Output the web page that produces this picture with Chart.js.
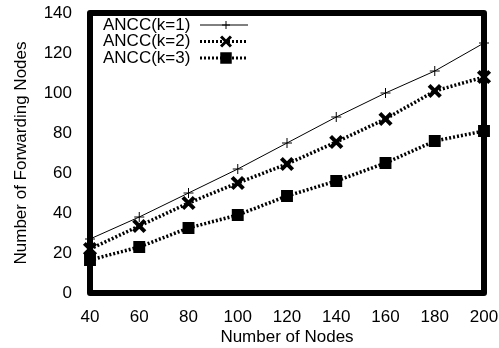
<!DOCTYPE html>
<html>
<head>
<meta charset="utf-8">
<script src="https://cdn.jsdelivr.net/npm/chart.js@4.4.1/dist/chart.umd.min.js"></script>
<style>
  html, body { margin: 0; padding: 0; background: #fff; }
  #wrap { width: 499px; height: 348px; }
</style>
</head>
<body>
<div id="wrap"><canvas id="chart"></canvas></div>
<script>
const nodes = [40, 60, 80, 100, 120, 140, 160, 180, 200];
const ancc1 = [27, 38, 50, 62, 75, 88, 100, 111, 125];
const ancc2 = [22, 33.5, 45, 55, 64.5, 75.5, 87, 101, 108];
const ancc3 = [16.5, 23, 32.5, 39, 48.5, 56, 65, 76, 81];
const seriesNames = ['ANCC(k=1)', 'ANCC(k=2)', 'ANCC(k=3)'];

const FONT = "'Liberation Sans', Arial, sans-serif";
const FSIZE = 17;

function toPoints(ys) {
    return nodes.map((x, i) => ({ x: x, y: ys[i] }));
}

// legend inside the top-left corner of the plot
const legendPlugin = {
    id: 'boxLegend',
    afterDatasetsDraw(chart) {
        const ctx = chart.ctx;
        const a = chart.chartArea;
        ctx.save();
        ctx.font = FSIZE + 'px ' + FONT;
        ctx.textBaseline = 'middle';
        ctx.textAlign = 'left';
        ctx.strokeStyle = '#000';
        chart.data.datasets.forEach((ds, i) => {
            const y = a.top + 12 + i * 16.5;
            ctx.fillStyle = '#000';
            ctx.fillText(ds.label, a.left + 13, y);
            ctx.beginPath();
            ctx.lineWidth = ds.borderWidth === 1 ? 1 : 3;
            ctx.setLineDash(ds.borderDash || []);
            ctx.moveTo(a.left + 110, y);
            ctx.lineTo(a.left + 158, y);
            ctx.stroke();
            ctx.setLineDash([]);
            Chart.helpers.drawPoint(ctx, {
                pointStyle: ds.pointStyle,
                radius: ds.pointRadius - 1,
                borderWidth: ds.pointBorderWidth,
                rotation: 0
            }, a.left + 136, y);
        });
        ctx.restore();
    }
};

// thick box around the plot area
const framePlugin = {
    id: 'frame',
    afterDraw(chart) {
        const ctx = chart.ctx;
        const a = chart.chartArea;
        ctx.save();
        ctx.setLineDash([]);
        ctx.globalAlpha = 1;
        ctx.strokeStyle = '#000';
        ctx.lineWidth = 6;
        ctx.lineJoin = 'round';
        ctx.beginPath();
        ctx.rect(a.left, a.top, a.right - a.left, a.bottom - a.top);
        ctx.stroke();
        ctx.restore();
    }
};

new Chart(document.getElementById('chart'), {
    type: 'line',
    data: {
        datasets: [
            {
                label: seriesNames[0],
                data: toPoints(ancc1),
                borderColor: '#000',
                backgroundColor: '#000',
                borderWidth: 1,
                pointStyle: 'cross',
                pointRadius: 5,
                pointBorderWidth: 1,
                clip: false
            },
            {
                label: seriesNames[1],
                data: toPoints(ancc2),
                borderColor: '#000',
                backgroundColor: '#000',
                borderWidth: 3.5,
                borderDash: [2, 2],
                pointStyle: 'crossRot',
                pointRadius: 8,
                pointBorderWidth: 4,
                clip: false
            },
            {
                label: seriesNames[2],
                data: toPoints(ancc3),
                borderColor: '#000',
                backgroundColor: '#000',
                borderWidth: 3.5,
                borderDash: [2, 2],
                pointStyle: 'rect',
                pointRadius: 7,
                pointBorderWidth: 2,
                clip: false
            }
        ]
    },
    options: {
        responsive: true,
        maintainAspectRatio: false,
        animation: false,
        layout: { padding: { top: 13, right: 15 } },
        plugins: {
            legend: { display: false },
            tooltip: { enabled: false }
        },
        scales: {
            x: {
                type: 'linear',
                min: 40,
                max: 200,
                grid: { display: false },
                border: { display: false },
                ticks: {
                    stepSize: 20,
                    color: '#000',
                    padding: 6,
                    maxRotation: 0,
                    font: { family: FONT, size: FSIZE }
                },
                title: {
                    display: true,
                    text: 'Number of Nodes',
                    color: '#000',
                    padding: { top: 4, bottom: 0 },
                    font: { family: FONT, size: FSIZE }
                },
                afterFit: s => {
                    s.height = 55;
                    s.paddingLeft = 0;
                    s.paddingRight = 0;
                }
            },
            y: {
                min: 0,
                max: 140,
                grid: { display: false },
                border: { display: false },
                ticks: {
                    stepSize: 20,
                    color: '#000',
                    padding: 10,
                    font: { family: FONT, size: FSIZE }
                },
                title: {
                    display: true,
                    text: 'Number of Forwarding Nodes',
                    color: '#000',
                    padding: { top: 11, bottom: 0 },
                    font: { family: FONT, size: FSIZE }
                },
                afterFit: s => {
                    s.width = 90;
                    s.paddingTop = 0;
                    s.paddingBottom = 0;
                }
            }
        }
    },
    plugins: [legendPlugin, framePlugin]
});
</script>
</body>
</html>
